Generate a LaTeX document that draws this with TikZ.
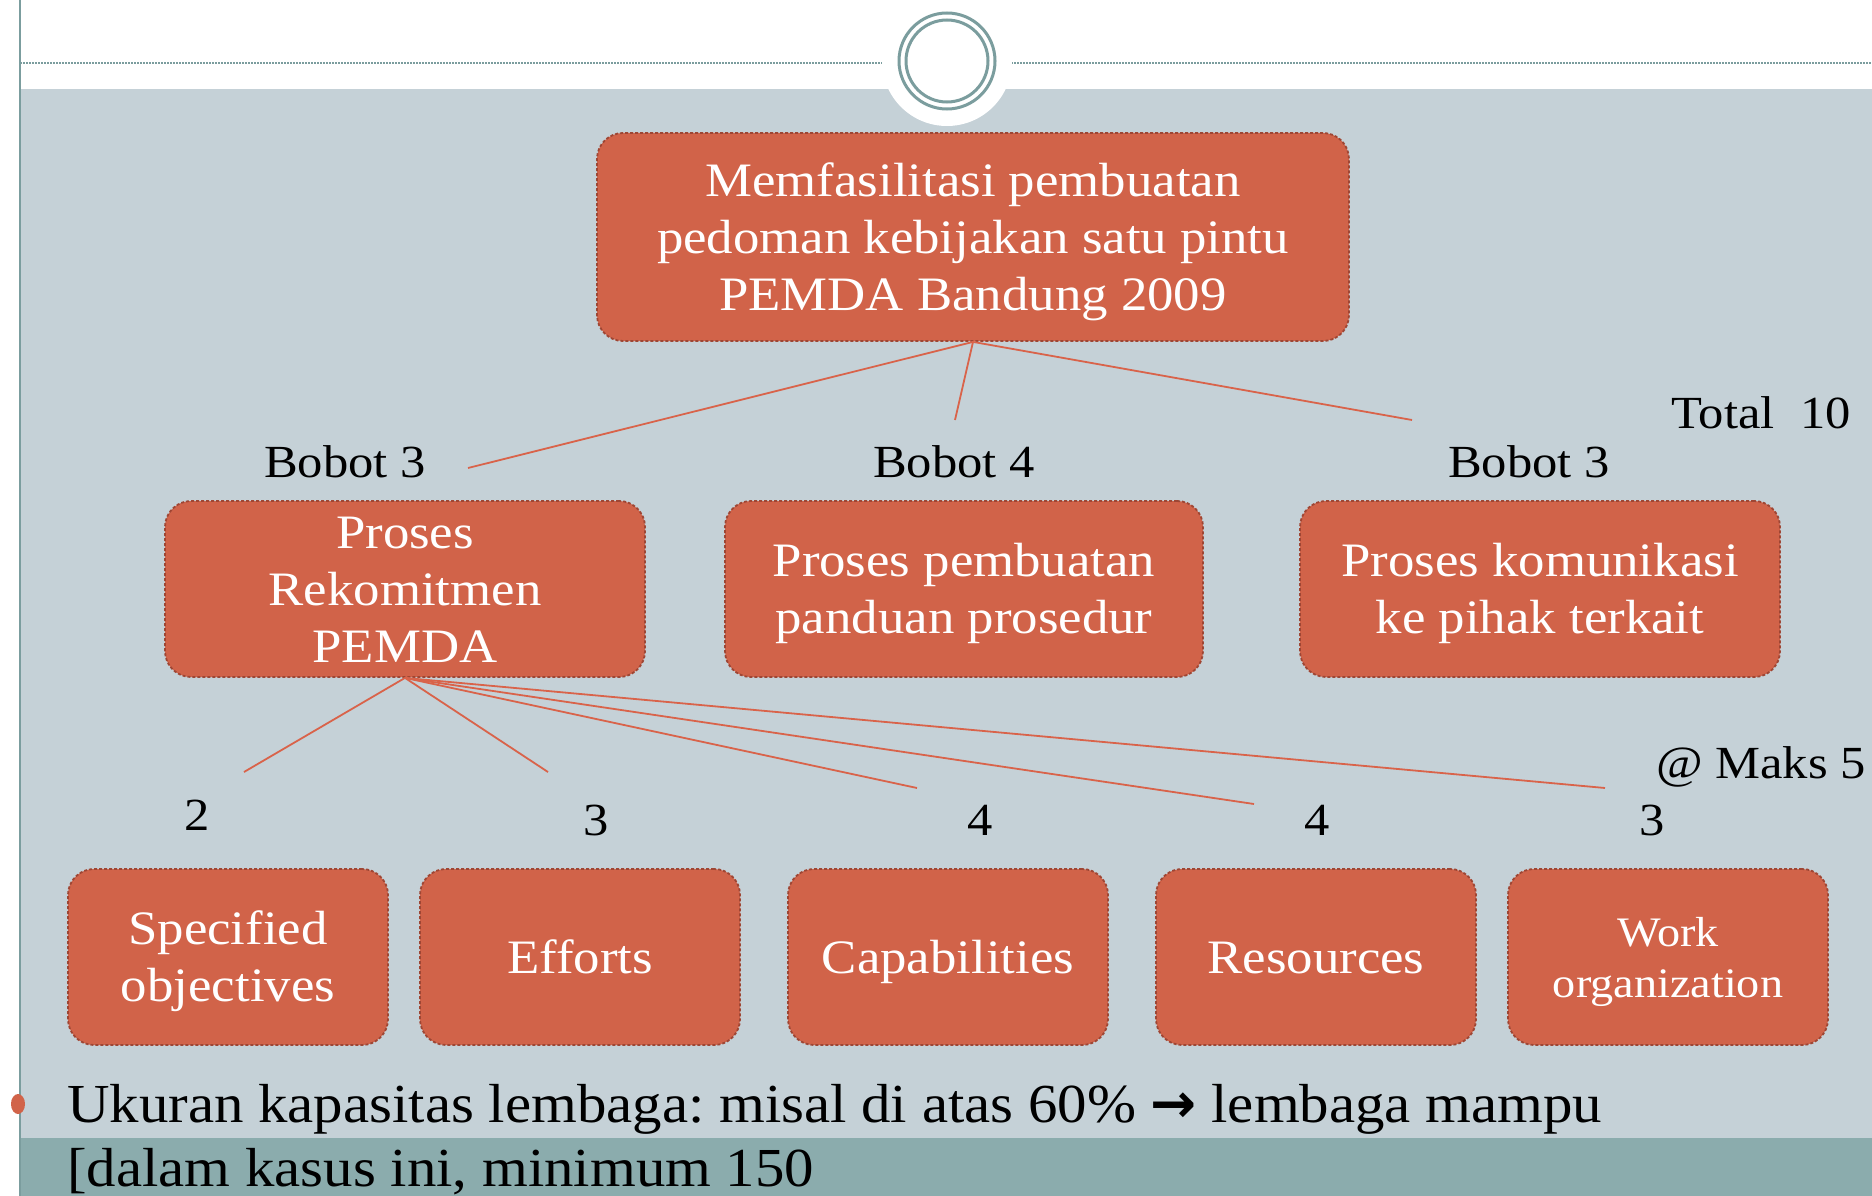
\documentclass[tikz,border=0pt]{standalone}
\usepackage{fontspec}
\setmainfont{Liberation Serif}[FakeStretch=1.1]
\newfontfamily\bottomfont{Liberation Serif}[FakeStretch=1.07]
\newfontfamily\arrowfont{DejaVu Sans}
\frenchspacing
\definecolor{boxfill}{HTML}{D16349}
\definecolor{boxline}{HTML}{9E4634}
\definecolor{bggray}{HTML}{C5D1D7}
\definecolor{bandteal}{HTML}{8BACAD}
\definecolor{ringcol}{HTML}{7B9D9E}
\definecolor{linkcol}{HTML}{D9634A}
\newcommand\bt[1]{\raisebox{0pt}[\height][\dimexpr\depth-10pt\relax]{\begin{tabular}{@{}c@{}}#1\end{tabular}}}
\tikzset{
  box/.style={draw=boxline, fill=boxfill, dashed, dash pattern=on 3pt off 2pt, line width=1.8pt,
    rounded corners=26pt, text=white, inner sep=0pt,
    font=\fontsize{48}{57}\selectfont},
  link/.style={draw=linkcol, line width=1.8pt},
  lbl/.style={text=black, font=\fontsize{46}{57}\selectfont, inner sep=0pt},
}
\begin{document}
\begin{tikzpicture}[x=1pt,y=-1pt]
\useasboundingbox (0,0) rectangle (1872,1196);
\fill[white] (0,0) rectangle (1872,1196);
% backgrounds
\fill[bggray] (20,89) rectangle (1872,1138);
\fill[bandteal] (20,1138) rectangle (1872,1196);
\draw[ringcol, line width=1.5pt] (20,0) -- (20,1196);
\draw[ringcol, line width=1.5pt, dash pattern=on 2pt off 1pt] (20,63) -- (885,63);
\draw[ringcol, line width=1.5pt, dash pattern=on 2pt off 1pt] (1011,63) -- (1872,63);
% circle ornament
\fill[white] (947,61) circle (65);
\draw[ringcol, line width=3pt] (947,61) circle (48);
\draw[ringcol, line width=3pt] (947,61) circle (41);
% boxes
\node[box, minimum width=752, minimum height=208] (top) at (973,237)
  {\bt{Memfasilitasi pembuatan\\pedoman kebijakan satu pintu\\PEMDA Bandung 2009}};
\node[box, minimum width=480, minimum height=176] (pa) at (405,589)
  {\bt{Proses\\Rekomitmen\\PEMDA}};
\node[box, minimum width=478, minimum height=176] (pb) at (964,589)
  {\bt{Proses pembuatan\\panduan prosedur}};
\node[box, minimum width=480, minimum height=176] (pc) at (1540,589)
  {\bt{Proses komunikasi\\ke pihak terkait}};
\node[box, minimum width=320, minimum height=176] (c1) at (228,957)
  {\bt{Specified\\objectives}};
\node[box, minimum width=320, minimum height=176] (c2) at (580,957)
  {\bt{Efforts}};
\node[box, minimum width=320, minimum height=176] (c3) at (948,957)
  {\bt{Capabilities}};
\node[box, minimum width=320, minimum height=176] (c4) at (1316,957)
  {\bt{Resources}};
\node[box, minimum width=320, minimum height=176, font=\fontsize{42}{51}\selectfont] (c5) at (1668,957)
  {\bt{Work\\organization}};
% connector ends
\coordinate (t1) at (468,468);
\coordinate (t2) at (955,420);
\coordinate (t3) at (1412,420);
\coordinate (s1) at (244,772);
\coordinate (s2) at (548,772);
\coordinate (s3) at (917,788);
\coordinate (s4) at (1254,804);
\coordinate (s5) at (1605,788);
\draw[link] (top.south) -- (t1);
\draw[link] (top.south) -- (t2);
\draw[link] (top.south) -- (t3);
\draw[link] (pa.south) -- (s1);
\draw[link] (pa.south) -- (s2);
\draw[link] (pa.south) -- (s3);
\draw[link] (pa.south) -- (s4);
\draw[link] (pa.south) -- (s5);
% labels
\node[lbl] (b1) at (345,462) {Bobot 3};
\node[lbl] (b2) at (954,462) {Bobot 4};
\node[lbl] (b3) at (1529,462) {Bobot 3};
\node[lbl] (tot) at (1761,413) {Total\ \ 10};
\node[lbl] (mk) at (1761,767) {@ Maks 5};
\node[lbl] (n1) at (197,815) {2};
\node[lbl] (n2) at (596,820) {3};
\node[lbl] (n3) at (980,820) {4};
\node[lbl] (n4) at (1317,820) {4};
\node[lbl] (n5) at (1652,820) {3};
% bullet text
\fill[boxfill] (18,1104) ellipse (7 and 10);
\node[anchor=base west, inner sep=0pt, font=\bottomfont\fontsize{55}{60}\selectfont] (u1) at (67,1122)
  {Ukuran kapasitas lembaga: misal di atas 60\% {\arrowfont\bfseries →} lembaga mampu};
\node[anchor=base west, inner sep=0pt, font=\bottomfont\fontsize{55}{60}\selectfont] (u2) at (67,1186)
  {[dalam kasus ini, minimum 150};
\end{tikzpicture}
\end{document}
